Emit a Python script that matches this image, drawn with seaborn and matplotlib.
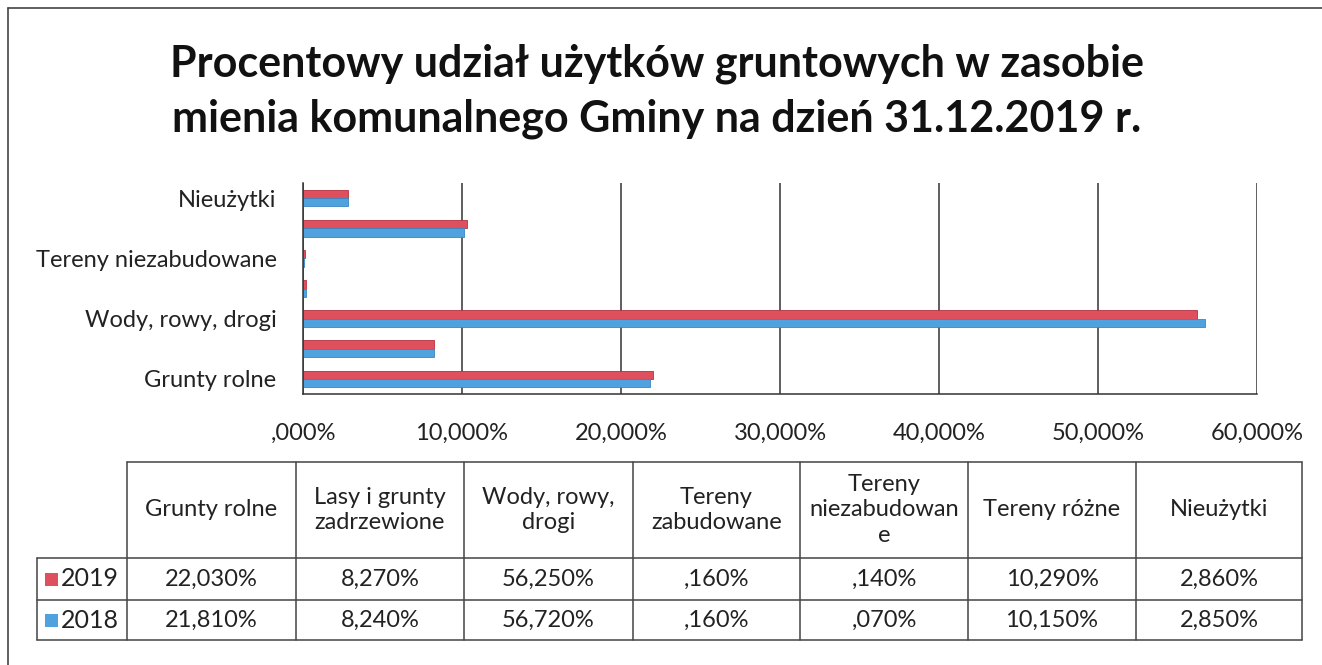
import pandas as pd
import matplotlib.pyplot as plt
from matplotlib.lines import Line2D
from matplotlib.patches import Rectangle
import seaborn as sns

# data
categories = ['Grunty rolne', 'Lasy i grunty zadrzewione', 'Wody, rowy, drogi',
              'Tereny zabudowane', 'Tereny niezabudowane', 'Tereny różne', 'Nieużytki']
table_heads = ['Grunty rolne', 'Lasy i grunty\nzadrzewione', 'Wody, rowy,\ndrogi',
               'Tereny\nzabudowane', 'Tereny\nniezabudowan\ne', 'Tereny różne', 'Nieużytki']
years = ['2019', '2018']
v2019 = [22.03, 8.27, 56.25, 0.16, 0.14, 10.29, 2.86]
v2018 = [21.81, 8.24, 56.72, 0.16, 0.07, 10.15, 2.85]
xticks = [0, 10, 20, 30, 40, 50, 60]

pal = {'2019': '#DE505E', '2018': '#4FA2DE'}
edge = {'2019': '#B8303E', '2018': '#3A86C0'}

df = pd.DataFrame({'kat': categories * 2,
                   'rok': ['2019'] * 7 + ['2018'] * 7,
                   'val': v2019 + v2018})

def pl(v):
    s = f'{v:.3f}'.replace('.', ',')
    if s.startswith('0,'):
        s = s[1:]
    return s + '%'

W, H = 1322, 665
fs = 17
sns.set_style('white')
plt.rcParams['font.family'] = ['Lato', 'DejaVu Sans']
fig = plt.figure(figsize=(W / 100, H / 100), dpi=100)
ax = fig.add_axes([303 / W, 1 - 394 / H, (1257 - 303) / W, (394 - 183) / H])

sns.barplot(data=df, y='kat', x='val', hue='rok', order=categories[::-1],
            hue_order=years, palette=pal, width=0.55, orient='h', ax=ax,
            legend=False, saturation=1)
for bars, yr in zip(ax.containers, years):
    for b in bars:
        b.set_edgecolor(edge[yr])
        b.set_linewidth(0.6)

ax.set_xlim(0, 60)
ax.set_ylim(6.5, -0.5)
ax.set_xticks(xticks)
ax.set_xticklabels([pl(t) for t in xticks], fontsize=fs, color='#222222')
ylabs = categories[::-1]
ax.set_yticks(range(7))
ax.set_yticklabels([l if i % 2 == 0 else '' for i, l in enumerate(ylabs)],
                   fontsize=fs, color='#222222')
ax.tick_params(axis='x', length=0, pad=21)
ax.tick_params(axis='y', length=0, pad=19)
ax.set_xlabel('')
ax.set_ylabel('')
ax.grid(axis='x', color='#333333', linewidth=1.1)
ax.set_axisbelow(True)
for s in ['top', 'right']:
    ax.spines[s].set_visible(False)
for s in ['left', 'bottom']:
    ax.spines[s].set_color('#333333')
    ax.spines[s].set_linewidth(1.1)

# title
fig.text(657 / W, 1 - 91 / H,
         'Procentowy udział użytków gruntowych w zasobie\nmienia komunalnego Gminy na dzień 31.12.2019 r.',
         ha='center', va='center', fontsize=31, fontweight='bold', color='#111111',
         linespacing=1.45)

# outer frame
tf = fig.transFigure
fig.add_artist(Line2D([8 / W, 1], [1 - 8 / H] * 2, transform=tf, color='#444444', lw=1.2))
fig.add_artist(Line2D([8 / W] * 2, [0, 1 - 8 / H], transform=tf, color='#444444', lw=1.2))

# data table under the chart
cols = [37, 127, 296, 464, 633, 800, 968, 1136, 1302]
rows = [462, 558, 600, 640]
lc = '#444444'

def hline(y, x0, x1):
    fig.add_artist(Line2D([x0 / W, x1 / W], [1 - y / H] * 2, transform=tf, color=lc, lw=1.1))

def vline(x, y0, y1):
    fig.add_artist(Line2D([x / W] * 2, [1 - y0 / H, 1 - y1 / H], transform=tf, color=lc, lw=1.1))

hline(rows[0], cols[1], cols[-1])
for y in rows[1:]:
    hline(y, cols[0], cols[-1])
vline(cols[0], rows[1], rows[-1])
for x in cols[1:]:
    vline(x, rows[0], rows[-1])

for i, h in enumerate(table_heads):
    xc = (cols[i + 1] + cols[i + 2]) / 2
    fig.text(xc / W, 1 - (rows[0] + rows[1]) / 2 / H, h, ha='center', va='center',
             fontsize=fs, color='#222222', linespacing=1.25)

for r, (yr, vals) in enumerate(zip(years, [v2019, v2018])):
    yc = (rows[r + 1] + rows[r + 2]) / 2
    fig.add_artist(Rectangle((45 / W, 1 - (yc + 7) / H), 13 / W, 13 / H, transform=tf,
                             facecolor=pal[yr], edgecolor='none'))
    fig.text(61 / W, 1 - yc / H, yr, ha='left', va='center', fontsize=18, color='#222222')
    for i, v in enumerate(vals):
        xc = (cols[i + 1] + cols[i + 2]) / 2
        fig.text(xc / W, 1 - yc / H, pl(v), ha='center', va='center',
                 fontsize=fs, color='#222222')

fig.savefig('out.png', dpi=100, facecolor='white')
